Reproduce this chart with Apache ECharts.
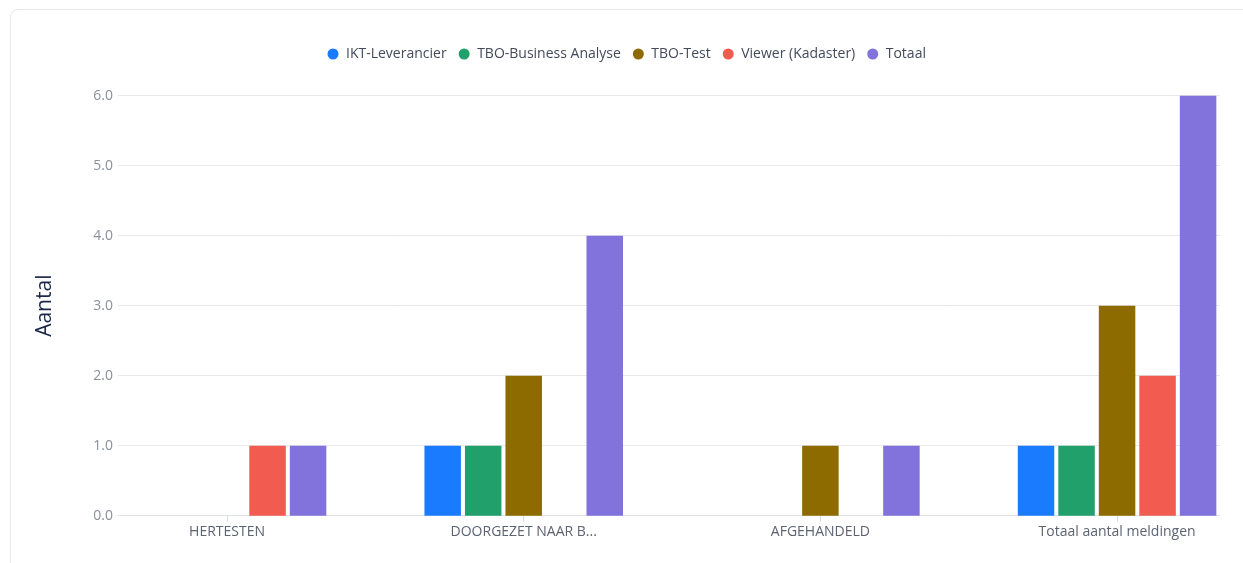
<!DOCTYPE html>
<html>
<head>
<meta charset="utf-8">
<script src="https://cdn.jsdelivr.net/npm/echarts@6/dist/echarts.min.js"></script>
<style>
  html, body { margin: 0; padding: 0; background: #fff; overflow: hidden; }
  .card {
    position: absolute; left: 10px; top: 9px; width: 1260px; height: 600px;
    border: 1px solid #e6e8eb; border-radius: 8px; box-sizing: border-box;
  }
  /* wider than the window so the last bar group can sit where it does in the original */
  #chart { position: absolute; left: 0; top: 0; width: 1300px; height: 563px; }
</style>
</head>
<body>
<div class="card"></div>
<div id="chart"></div>
<script>
const categories = ['HERTESTEN', 'DOORGEZET NAAR B...', 'AFGEHANDELD', 'Totaal aantal meldingen']
const seriesNames = ['IKT-Leverancier', 'TBO-Business Analyse', 'TBO-Test', 'Viewer (Kadaster)', 'Totaal']
const iktLeverancier = [0, 1, 0, 1]
const tboBusinessAnalyse = [0, 1, 0, 1]
const tboTest = [0, 2, 1, 3]
const viewerKadaster = [1, 0, 0, 2]
const totaal = [1, 4, 1, 6]
const colors = ['#1b7bff', '#21a06b', '#8e6b00', '#f15b50', '#8272dc']

const font = '"Open Sans", "Noto Sans", sans-serif'
const values = [iktLeverancier, tboBusinessAnalyse, tboTest, viewerKadaster, totaal]

const chart = echarts.init(document.getElementById('chart'))
chart.setOption({
  animation: false,
  color: colors,
  legend: {
    top: 42,
    left: 322.5,
    icon: 'circle',
    itemWidth: 16,
    itemHeight: 11,
    itemGap: 12,
    textStyle: { fontFamily: font, fontSize: 14, color: '#424a5b' },
    data: seriesNames
  },
  grid: [
    // bars
    { left: 78.7, width: 1186.7, top: 95.7, bottom: 47.3 },
    // value axis / gridlines
    { left: 118, right: 80, top: 95.7, bottom: 47.3 }
  ],
  xAxis: [
    {
      type: 'category',
      gridIndex: 0,
      data: categories,
      axisLine: { show: false },
      axisTick: { show: true, alignWithLabel: true, length: 6, lineStyle: { color: '#d6d9de' } },
      axisLabel: { margin: 9, fontFamily: font, fontSize: 14, color: '#5c6371' }
    },
    {
      type: 'value',
      gridIndex: 1,
      axisLine: { show: true, lineStyle: { color: '#dfe2e6' } },
      axisTick: { show: false },
      axisLabel: { show: false },
      splitLine: { show: false }
    }
  ],
  yAxis: [
    { type: 'value', gridIndex: 0, min: 0, max: 6, interval: 1, show: false, splitLine: { show: false } },
    {
      type: 'value',
      gridIndex: 1,
      min: 0,
      max: 6,
      interval: 1,
      name: 'Aantal',
      nameLocation: 'middle',
      nameGap: 62,
      nameTextStyle: { fontFamily: font, fontSize: 21, color: '#1c2847' },
      axisLine: { show: false },
      axisTick: { show: false },
      axisLabel: { margin: 5, fontFamily: font, fontSize: 14, color: '#8a909a', formatter: v => v.toFixed(1) },
      splitLine: { lineStyle: { color: '#e6e8eb' } }
    }
  ],
  series: seriesNames.map((name, i) => ({
    name,
    type: 'bar',
    xAxisIndex: 0,
    yAxisIndex: 0,
    barWidth: 36.5,
    barGap: '11%',
    data: values[i]
  }))
})
</script>
</body>
</html>
